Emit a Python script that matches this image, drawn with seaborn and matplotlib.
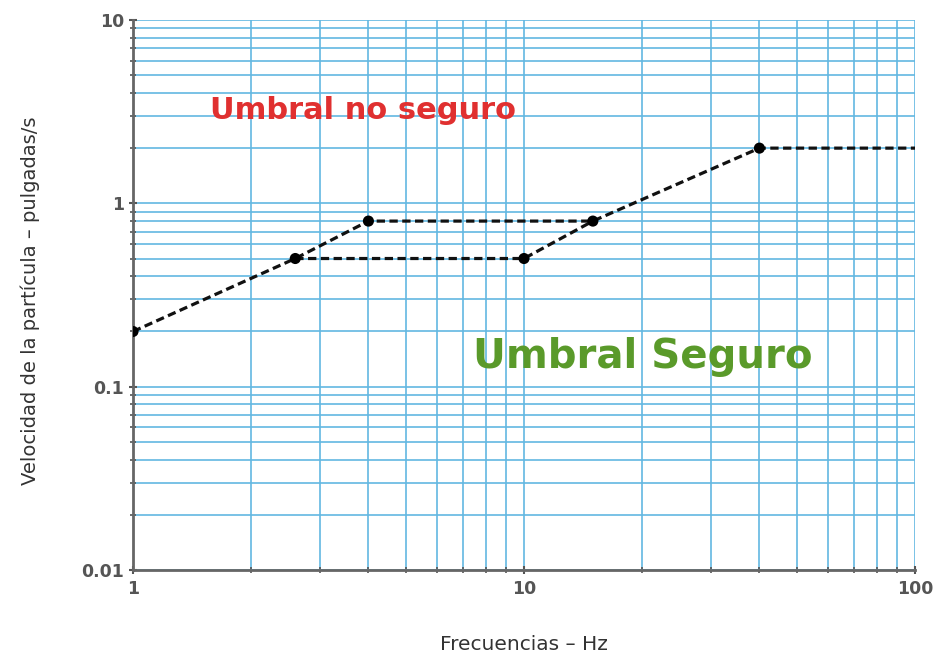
import numpy as np
import pandas as pd
import matplotlib
matplotlib.use("Agg")
import matplotlib.pyplot as plt
import matplotlib.ticker as mticker
import seaborn as sns

# Data
upper_freq = [1, 2.6, 4, 15, 40, 100]
upper_vel = [0.2, 0.5, 0.8, 0.8, 2.0, 2.0]
lower_freq = [2.6, 10, 15]
lower_vel = [0.5, 0.5, 0.8]
marker_freq = [1, 2.6, 4, 10, 15, 40]
marker_vel = [0.2, 0.5, 0.8, 0.5, 0.8, 2.0]
x_ticks = [1, 10, 100]
x_labels = ["1", "10", "100"]
y_ticks = [0.01, 0.1, 1, 10]
y_labels = ["0.01", "0.1", "1", "10"]

sns.set_theme(style="white")
plt.rcParams['font.family'] = ['DejaVu Sans']

fig = plt.figure(figsize=(9.4, 6.57), dpi=100)
ax = fig.add_axes([0.1415, 0.1324, 0.8319, 0.8372])
ax.set_xscale("log")
ax.set_yscale("log")
ax.set_xlim(1, 100)
ax.set_ylim(0.01, 10)

grid_c = "#62b8e2"
ax.grid(True, which="both", color=grid_c, linewidth=1.2, zorder=0)
ax.set_axisbelow(True)

dash = (0, (2.6, 1.4))
dfu = pd.DataFrame({"f": upper_freq, "v": upper_vel})
dfl = pd.DataFrame({"f": lower_freq, "v": lower_vel})
dfm = pd.DataFrame({"f": marker_freq, "v": marker_vel})
sns.lineplot(data=dfu, x="f", y="v", sort=False, ax=ax, color="#111111",
             linestyle=dash, linewidth=2.3, zorder=3)
sns.lineplot(data=dfl, x="f", y="v", sort=False, ax=ax, color="#111111",
             linestyle=dash, linewidth=2.3, zorder=3)
sns.scatterplot(data=dfm, x="f", y="v", ax=ax, color="#000000", s=64,
                edgecolor="none", zorder=4)

ax.xaxis.set_major_locator(mticker.FixedLocator(x_ticks))
ax.xaxis.set_major_formatter(mticker.FixedFormatter(x_labels))
ax.yaxis.set_major_locator(mticker.FixedLocator(y_ticks))
ax.yaxis.set_major_formatter(mticker.FixedFormatter(y_labels))
ax.xaxis.set_minor_locator(mticker.LogLocator(base=10, subs=np.arange(2, 10)))
ax.yaxis.set_minor_locator(mticker.LogLocator(base=10, subs=np.arange(2, 10)))
ax.xaxis.set_minor_formatter(mticker.NullFormatter())
ax.yaxis.set_minor_formatter(mticker.NullFormatter())

ax.tick_params(axis="both", which="major", direction="inout", length=6,
               width=1.5, color="#555555", labelsize=12.5, labelcolor="#555555",
               left=True, bottom=True)
ax.tick_params(axis="both", which="minor", direction="inout", length=4,
               width=1.2, color="#555555", left=True, bottom=True)
ax.tick_params(axis="x", which="major", pad=4)
for lab in ax.get_xticklabels() + ax.get_yticklabels():
    lab.set_fontweight("bold")

for s in ["top", "right"]:
    ax.spines[s].set_visible(False)
for s in ["left", "bottom"]:
    ax.spines[s].set_color("#666666")
    ax.spines[s].set_linewidth(2)

ax.set_xlabel("Frecuencias – Hz", fontsize=14.5, color="#333333")
ax.xaxis.label.set_va("center")
ax.xaxis.set_label_coords(0.5, -0.136)
ax.set_ylabel("Velocidad de la partícula – pulgadas/s", fontsize=14,
              color="#333333")
ax.yaxis.label.set_va("center")
ax.yaxis.set_label_coords(-0.131, 0.49)

ax.text(0.098, 0.835, "Umbral no seguro", transform=ax.transAxes,
        color="#e03030", fontsize=22, fontweight="bold", va="center", ha="left")
ax.text(0.435, 0.387, "Umbral Seguro", transform=ax.transAxes,
        color="#5a9a2a", fontsize=29, fontweight="bold", va="center", ha="left")

fig.savefig("out.png", dpi=100, facecolor="white")
